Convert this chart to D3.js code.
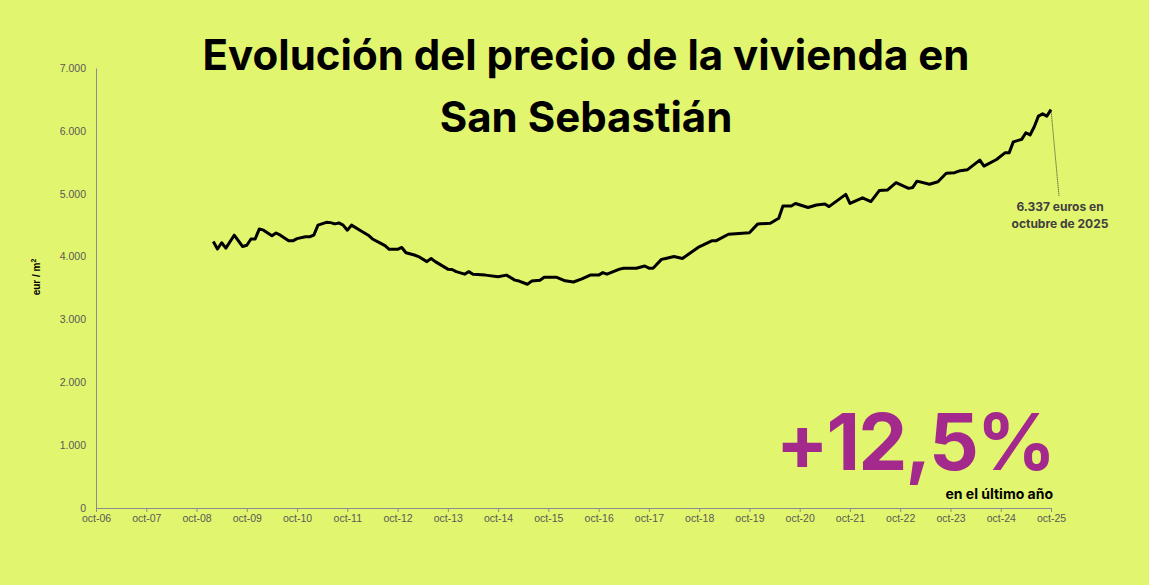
<!DOCTYPE html>
<html>
<head>
<meta charset="utf-8">
<script src="https://cdn.jsdelivr.net/npm/d3@7"></script>
<style>
  body { margin: 0; background: #e2f56e; }
  svg { display: block; font-family: Inter, "Liberation Sans", sans-serif; }
</style>
</head>
<body>
<svg id="chart" width="1149" height="585"></svg>
<script>
// meses desde oct-06 y precio (eur/m2)
var meses = [28,29,30,31,33,35,36,37,38,39,40,42,43,44,46,47,48,50,51,52,53,55,56,57,58,59,60,61,63,65,66,68,69,70,72,73,74,76,77,79,80,81,84,85,86,88,89,90,93,96,98,100,101,103,104,106,107,110,112,114,116,118,120,121,122,125,126,129,131,132,133,135,136,138,140,144,145,147,148,151,156,158,161,163,164,166,167,170,172,174,175,179,180,183,185,187,189,191,194,195,196,199,201,203,205,206,208,211,212,215,217,218,219,221,222,223,224,225,226,227,228];
var precios = [4240,4120,4220,4135,4340,4160,4180,4280,4280,4440,4420,4330,4375,4340,4250,4250,4285,4315,4315,4340,4500,4545,4540,4520,4535,4500,4420,4500,4420,4340,4280,4210,4175,4115,4115,4145,4060,4025,4000,3920,3970,3920,3800,3795,3760,3720,3760,3720,3705,3680,3705,3625,3610,3560,3610,3625,3670,3670,3615,3595,3645,3705,3705,3745,3720,3800,3815,3815,3850,3815,3815,3955,3970,4000,3970,4155,4185,4250,4250,4355,4380,4520,4530,4610,4805,4805,4845,4780,4820,4835,4795,4990,4845,4935,4875,5050,5060,5175,5085,5100,5200,5150,5190,5325,5335,5360,5380,5535,5440,5545,5650,5650,5825,5865,5970,5935,6065,6235,6270,6235,6337];
var ticksY = [0,1000,2000,3000,4000,5000,6000,7000];
var etiquetasX = ["oct-06","oct-07","oct-08","oct-09","oct-10","oct-11","oct-12","oct-13","oct-14","oct-15","oct-16","oct-17","oct-18","oct-19","oct-20","oct-21","oct-22","oct-23","oct-24","oct-25"];

var svg = d3.select("#chart");
var fmt = d3.formatLocale({decimal: ",", thousands: ".", grouping: [3], currency: ["", "€"]}).format(",.0f");

var x = d3.scaleLinear().domain([0, 228]).range([96, 1051]);
var y = d3.scaleLinear().domain([0, 7000]).range([508, 68]);

// eje y
var ejeY = svg.append("g").attr("transform", "translate(96,0)")
    .call(d3.axisLeft(y).tickValues(ticksY).tickFormat(fmt).tickSize(0).tickPadding(10));
ejeY.select(".domain").attr("stroke", "#8c8c8c");
ejeY.selectAll("text").attr("fill", "#595959").attr("font-size", 10.5).attr("font-family", "Liberation Sans, sans-serif");

// eje x
var ejeX = svg.append("g").attr("transform", "translate(0,508)")
    .call(d3.axisBottom(x).tickValues(d3.range(0, 229, 12)).tickFormat((d, i) => etiquetasX[i]).tickSize(4).tickPadding(3));
ejeX.selectAll("path, line").attr("stroke", "#8c8c8c");
ejeX.selectAll("text").attr("fill", "#595959").attr("font-size", 10.5).attr("font-family", "Liberation Sans, sans-serif");

// titulo eje y
svg.append("text")
    .attr("transform", "translate(40,277) rotate(-90)")
    .attr("text-anchor", "middle").attr("font-size", 10).attr("font-weight", "bold")
    .attr("font-family", "Liberation Sans, sans-serif")
    .html('eur / m<tspan dy="-4" font-size="7">2</tspan>');

// linea
var datos = meses.map((m, i) => [m, precios[i]]);
svg.append("path")
    .datum(datos)
    .attr("fill", "none")
    .attr("stroke", "#000")
    .attr("stroke-width", 3)
    .attr("stroke-linejoin", "round")
    .attr("d", d3.line().x(d => x(d[0])).y(d => y(d[1])));

// titulo
svg.append("text").attr("x", 586).attr("y", 70).attr("text-anchor", "middle")
    .attr("font-size", 42).attr("font-weight", "bold").text("Evolución del precio de la vivienda en");
svg.append("text").attr("x", 586).attr("y", 132).attr("text-anchor", "middle")
    .attr("font-size", 42).attr("font-weight", "bold").text("San Sebastián");

// anotacion ultimo dato
var ultimo = datos[datos.length - 1];
svg.append("line")
    .attr("x1", x(ultimo[0])).attr("y1", y(ultimo[1]))
    .attr("x2", x(ultimo[0]) + 8).attr("y2", 196)
    .attr("stroke", "#333").attr("stroke-width", 1).attr("stroke-dasharray", "1,1");
svg.append("text").attr("x", 1060).attr("y", 211).attr("text-anchor", "middle")
    .attr("font-size", 12).attr("font-weight", "bold").attr("fill", "#404040")
    .text(fmt(ultimo[1]) + " euros en");
svg.append("text").attr("x", 1060).attr("y", 228).attr("text-anchor", "middle")
    .attr("font-size", 12).attr("font-weight", "bold").attr("fill", "#404040")
    .text("octubre de 2025");

// variacion anual
svg.append("text").attr("x", 1054).attr("y", 470).attr("text-anchor", "end")
    .attr("font-size", 78).attr("font-weight", "bold").attr("fill", "#a3298c")
    .attr("letter-spacing", -2)
    .text("+12,5%");
svg.append("text").attr("x", 1053).attr("y", 499).attr("text-anchor", "end")
    .attr("font-size", 14).attr("font-weight", "bold").text("en el último año");
</script>
</body>
</html>
